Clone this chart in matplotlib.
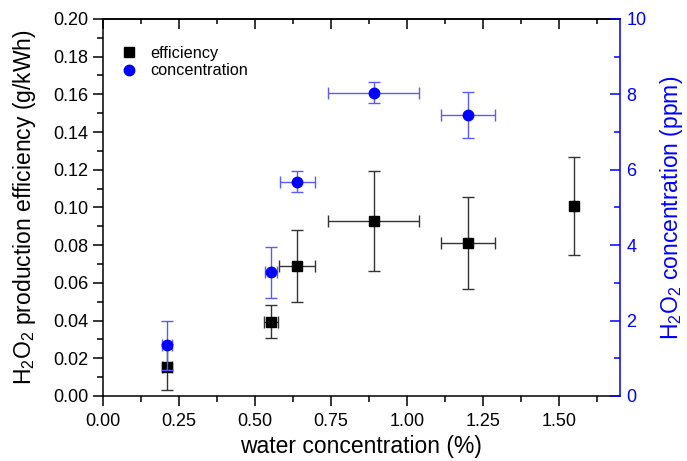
import matplotlib
matplotlib.use("Agg")
import matplotlib.pyplot as plt
from matplotlib.ticker import MultipleLocator, FormatStrFormatter
from matplotlib.lines import Line2D

plt.rcParams['font.family'] = ['Liberation Sans', 'DejaVu Sans']
plt.rcParams['mathtext.default'] = 'regular'

# efficiency data (left axis)
eff_x = [0.21, 0.553, 0.639, 0.890, 1.200, 1.550]
eff_xerr = [0.017, 0.024, 0.059, 0.150, 0.089, 0.0]
eff_y = [0.0154, 0.0393, 0.0690, 0.0930, 0.0810, 0.1010]
eff_yerr = [0.0120, 0.0087, 0.0193, 0.0265, 0.0244, 0.0260]

# concentration data (right axis, ppm)
conc_x = [0.21, 0.552, 0.639, 0.890, 1.200]
conc_xerr = [0.017, 0.020, 0.057, 0.150, 0.089]
conc_y = [1.34, 3.28, 5.68, 8.04, 7.46]
conc_yerr = [0.64, 0.68, 0.28, 0.28, 0.61]

fig = plt.figure(figsize=(6.87, 4.61), dpi=100)
ax = fig.add_axes([0.150, 0.141, 0.752, 0.818])
ax2 = ax.twinx()

ax.errorbar(eff_x, eff_y, xerr=eff_xerr, yerr=eff_yerr, fmt='s', color='black',
            ecolor='#333333', elinewidth=1.0, capsize=4, capthick=1.0,
            markersize=6.8, label='efficiency', zorder=3)
ax2.errorbar(conc_x, conc_y, xerr=conc_xerr, yerr=conc_yerr, fmt='o', color='#0000ff',
             ecolor='#5a5aff', elinewidth=1.0, capsize=4, capthick=1.0,
             markersize=7.5, label='concentration', zorder=3)

ax.set_xlim(0, 1.7)
ax.set_ylim(0, 0.20)
ax2.set_ylim(0, 10)

ax.xaxis.set_major_locator(MultipleLocator(0.25))
ax.xaxis.set_minor_locator(MultipleLocator(0.125))
ax.xaxis.set_major_formatter(FormatStrFormatter('%.2f'))
ax.yaxis.set_major_locator(MultipleLocator(0.02))
ax.yaxis.set_minor_locator(MultipleLocator(0.01))
ax.yaxis.set_major_formatter(FormatStrFormatter('%.2f'))
ax2.yaxis.set_major_locator(MultipleLocator(2))
ax2.yaxis.set_minor_locator(MultipleLocator(1))

for s in ['left', 'bottom', 'top']:
    ax.spines[s].set_linewidth(1.1)
ax.spines['right'].set_visible(False)
ax2.spines['right'].set_color('#0000ff')
ax2.spines['right'].set_linewidth(1.1)
for s in ['left', 'bottom', 'top']:
    ax2.spines[s].set_visible(False)

ax.tick_params(axis='x', which='major', direction='out', length=7, width=1.1,
               labelsize=13, top=False, pad=5)
ax.tick_params(axis='x', which='minor', direction='out', length=4, width=1.1, top=False)
ax.tick_params(axis='y', which='major', direction='out', length=7, width=1.1,
               labelsize=13, right=False)
ax.tick_params(axis='y', which='minor', direction='out', length=4, width=1.1, right=False)

# top ticks inward
axt = ax.secondary_xaxis('top')
axt.xaxis.set_major_locator(MultipleLocator(0.25))
axt.xaxis.set_minor_locator(MultipleLocator(0.125))
axt.tick_params(axis='x', which='major', direction='in', length=7, width=1.1, labeltop=False)
axt.tick_params(axis='x', which='minor', direction='in', length=3.5, width=1.1)
axt.spines['top'].set_linewidth(1.1)

ax2.tick_params(axis='y', which='major', direction='in', length=7, width=1.1,
                colors='#0000ff', labelsize=13, pad=5)
ax2.tick_params(axis='y', which='minor', direction='in', length=4, width=1.1, colors='#0000ff')

ax.set_xlabel('water concentration (%)', fontsize=16.5, labelpad=4)
ax.set_ylabel('H$_2$O$_2$ production efficiency (g/kWh)', fontsize=16.5, labelpad=11)
ax2.set_ylabel('H$_2$O$_2$ concentration (ppm)', fontsize=16.5, color='#0000ff', labelpad=8)

handles = [Line2D([], [], marker='s', color='black', linestyle='none', markersize=6.8),
           Line2D([], [], marker='o', color='#0000ff', linestyle='none', markersize=7.5)]
ax.legend(handles, ['efficiency', 'concentration'], loc='upper left',
          bbox_to_anchor=(0.0, 0.967), frameon=False, fontsize=11.7,
          handletextpad=0.55, handlelength=1.45, labelspacing=0.15)

fig.savefig('out.png', dpi=100)
